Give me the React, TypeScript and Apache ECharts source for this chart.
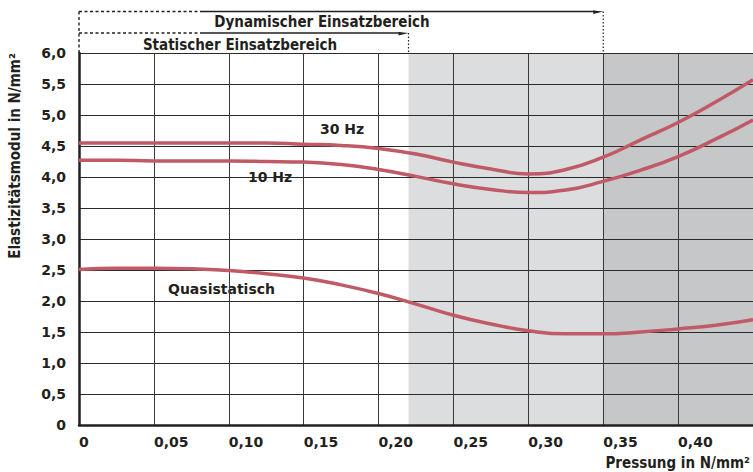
import React, { useEffect, useRef } from "react";
import * as echarts from "echarts";

const xValues = [0, 0.025, 0.05, 0.075, 0.1, 0.125, 0.15, 0.175, 0.2, 0.225, 0.25, 0.275, 0.3, 0.325, 0.35, 0.375, 0.4, 0.425, 0.45];
const hz30 = [4.55, 4.55, 4.55, 4.55, 4.55, 4.55, 4.53, 4.51, 4.46, 4.37, 4.24, 4.13, 4.05, 4.12, 4.32, 4.6, 4.88, 5.21, 5.57];
const hz10 = [4.27, 4.27, 4.26, 4.26, 4.26, 4.25, 4.24, 4.2, 4.12, 4.01, 3.89, 3.8, 3.75, 3.79, 3.93, 4.11, 4.33, 4.61, 4.92];
const quasi = [2.51, 2.53, 2.53, 2.52, 2.49, 2.44, 2.37, 2.26, 2.12, 1.95, 1.77, 1.63, 1.52, 1.47, 1.47, 1.5, 1.55, 1.61, 1.7];

const seriesNames = ["30 Hz", "10 Hz", "Quasistatisch"];
const bandStarts = [0.22, 0.35];
const bandEnds = [0.35, 0.45];
const staticLimit = 0.22;
const dynamicLimit = 0.35;

const yTitle = "Elastizitätsmodul in N/mm²";
const xTitle = "Pressung in N/mm²";
const dynText = "Dynamischer Einsatzbereich";
const statText = "Statischer Einsatzbereich";
const pressureNote = "0,22 N/mm²";

const BOLD = "'DejaVu Sans', sans-serif";
const COND = "'DejaVu Sans Condensed', 'Liberation Sans Narrow', 'DejaVu Sans', sans-serif";
const INK = "#231f20";
const CURVE = "#bf5a66";

export default function App() {
  const ref = useRef<HTMLDivElement>(null);
  useEffect(() => {
    if (!ref.current) return;
    const chart = echarts.init(ref.current, undefined, { renderer: "svg" });
    const pairs = (ys: number[]) => xValues.map((x, i) => [x, ys[i]]);
    const lineSeries = [hz30, hz10, quasi].map((ys, i) => ({
      name: seriesNames[i],
      type: "line",
      data: pairs(ys),
      smooth: 0.5,
      showSymbol: false,
      z: 5,
      lineStyle: { color: CURVE, width: 3.5 },
    }));
    chart.setOption({
      animation: false,
      grid: { left: 79, top: 53, width: 677, height: 372, containLabel: false },
      xAxis: {
        type: "value",
        min: 0,
        max: 0.45,
        interval: 0.05,
        z: 3,
        axisLine: { show: true, onZero: false, lineStyle: { color: INK, width: 2.5 } },
        axisTick: { show: false },
        splitLine: { show: true, lineStyle: { color: "#3a3a3a", width: 1 } },
        axisLabel: {
          align: "left",
          margin: 10,
          showMaxLabel: false,
          fontFamily: BOLD,
          fontWeight: "bold",
          fontSize: 14,
          color: INK,
          formatter: (v: number) => (v === 0 ? "0" : v.toFixed(2).replace(".", ",")),
        },
      },
      yAxis: {
        type: "value",
        min: 0,
        max: 6,
        interval: 0.5,
        z: 3,
        axisLine: { show: true, lineStyle: { color: INK, width: 2.5 } },
        axisTick: { show: false },
        splitLine: { show: true, lineStyle: { color: "#2a2a2a", width: 1 } },
        axisLabel: {
          margin: 13,
          fontFamily: BOLD,
          fontWeight: "bold",
          fontSize: 14,
          color: INK,
          formatter: (v: number) => (v === 0 ? "0" : v.toFixed(1).replace(".", ",")),
        },
      },
      series: [
        {
          name: "bands",
          type: "line",
          data: [],
          z: 1,
          markArea: {
            silent: true,
            data: bandStarts.map((s, i) => [
              { xAxis: s, itemStyle: { color: i === 0 ? "#dcdddf" : "#c6c7c9" } },
              { xAxis: bandEnds[i] },
            ]),
          },
        },
        ...lineSeries,
      ],
    });

    const px = (v: number) => chart.convertToPixel({ xAxisIndex: 0 }, v) as number;
    const x0 = px(0);
    const xs = px(staticLimit);
    const xd = px(dynamicLimit);
    const top = 53;
    const yDyn = 11.5;
    const yStat = 33;
    const dashEnd = 200;
    const lineStyle = { stroke: INK, lineWidth: 1.4 };
    const txt = (text: string, x: number, y: number, font: string, size: number, align = "left", extra: any = {}) => ({
      type: "text",
      x,
      y,
      ...extra,
      style: { text, fill: INK, font: `bold ${size}px ${font}`, align, verticalAlign: "middle" },
    });
    chart.setOption({
      graphic: [
        { type: "line", shape: { x1: x0, y1: yDyn, x2: x0, y2: top }, style: { ...lineStyle, lineDash: [3, 2.5] } },
        { type: "line", shape: { x1: x0, y1: yDyn, x2: dashEnd, y2: yDyn }, style: { ...lineStyle, lineDash: [3, 2.5] } },
        { type: "line", shape: { x1: dashEnd, y1: yDyn, x2: xd - 8, y2: yDyn }, style: lineStyle },
        { type: "polygon", shape: { points: [[xd - 10, yDyn - 1], [xd, yDyn], [xd - 10, yDyn + 2.5]] }, style: { fill: INK } },
        { type: "line", shape: { x1: xd, y1: yDyn, x2: xd, y2: top }, style: { ...lineStyle, lineWidth: 1.2, lineDash: [1.5, 2] } },
        { type: "line", shape: { x1: x0, y1: yStat, x2: dashEnd, y2: yStat }, style: { ...lineStyle, lineDash: [3, 2.5] } },
        { type: "line", shape: { x1: dashEnd, y1: yStat, x2: xs - 8, y2: yStat }, style: lineStyle },
        { type: "polygon", shape: { points: [[xs - 10, yStat - 1], [xs, yStat], [xs - 10, yStat + 2.5]] }, style: { fill: INK } },
        { type: "line", shape: { x1: xs, y1: yStat, x2: xs, y2: top }, style: { ...lineStyle, lineWidth: 1.2, lineDash: [1.5, 2] } },
        txt(dynText, 322, 22, COND, 15, "center"),
        txt(statText, 240, 45, COND, 15, "center"),
        txt(yTitle, 15, 156, COND, 15, "center", { rotation: Math.PI / 2 }),
        txt(xTitle, 750, 463, COND, 15, "right"),
        txt(seriesNames[0], 320, 129, BOLD, 14),
        txt(seriesNames[1], 248, 177, BOLD, 14),
        txt(seriesNames[2], 168, 289, BOLD, 14),
        txt(pressureNote, 412, 96, BOLD, 14),
      ],
    });
    return () => chart.dispose();
  }, []);
  return <div ref={ref} style={{ position: "absolute", left: 0, top: 0, width: 753, height: 472 }} />;
}
